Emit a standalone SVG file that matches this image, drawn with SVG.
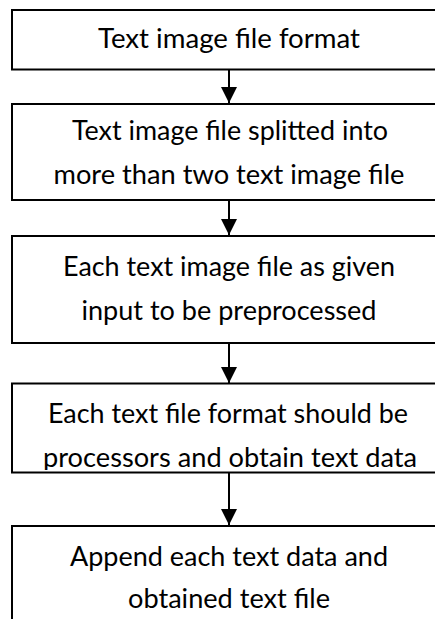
<svg xmlns="http://www.w3.org/2000/svg" width="435" height="619" viewBox="0 0 435 619">
  <style>
    .box { fill: #ffffff; stroke: #000000; stroke-width: 2; }
    .lbl { font-family: Lato, "Open Sans", "Liberation Sans", sans-serif; font-size: 26px; fill: #000000; text-anchor: middle; }
    .conn { stroke: #000000; stroke-width: 2; fill: none; marker-end: url(#arrow); }
  </style>
  <defs>
    <marker id="arrow" markerUnits="userSpaceOnUse" markerWidth="16" markerHeight="17" refX="16" refY="8" orient="auto">
      <path d="M0,0 L16,8 L0,16 Z" fill="#000000"/>
    </marker>
    <clipPath id="clip4">
      <rect x="12" y="383" width="434" height="87"/>
    </clipPath>
  </defs>
  <rect width="435" height="619" fill="#ffffff"/>

  <g id="connectors">
    <line class="conn" x1="229" y1="70" x2="229" y2="103"/>
    <line class="conn" x1="229" y1="200" x2="229" y2="235"/>
    <line class="conn" x1="229" y1="343" x2="229" y2="383"/>
    <line class="conn" x1="229" y1="473" x2="229" y2="525"/>
  </g>

  <g id="n1">
    <rect class="box" x="12" y="10" width="434" height="59.5"/>
    <text class="lbl" x="229" y="48" textLength="262" lengthAdjust="spacingAndGlyphs">Text image file format</text>
  </g>

  <g id="n2">
    <rect class="box" x="12" y="104" width="434" height="96"/>
    <text class="lbl" x="230" y="140" textLength="316" lengthAdjust="spacingAndGlyphs">Text image file splitted into</text>
    <text class="lbl" x="229" y="184" textLength="351" lengthAdjust="spacingAndGlyphs">more than two text image file</text>
  </g>

  <g id="n3">
    <rect class="box" x="12" y="236" width="434" height="107"/>
    <text class="lbl" x="229" y="276" textLength="332" lengthAdjust="spacingAndGlyphs">Each text image file as given</text>
    <text class="lbl" x="229" y="320" textLength="295" lengthAdjust="spacingAndGlyphs">input to be preprocessed</text>
  </g>

  <g id="n4">
    <rect class="box" x="12" y="383.5" width="434" height="89"/>
    <g clip-path="url(#clip4)">
      <text class="lbl" x="228" y="423" textLength="360" lengthAdjust="spacingAndGlyphs">Each text file format should be</text>
      <text class="lbl" x="230" y="467" textLength="374" lengthAdjust="spacingAndGlyphs">processors and obtain text data</text>
    </g>
  </g>

  <g id="n5">
    <rect class="box" x="12" y="526" width="434" height="110"/>
    <text class="lbl" x="229" y="566" textLength="318" lengthAdjust="spacingAndGlyphs">Append each text data and</text>
    <text class="lbl" x="229" y="608" textLength="202" lengthAdjust="spacingAndGlyphs">obtained text file</text>
  </g>
</svg>
